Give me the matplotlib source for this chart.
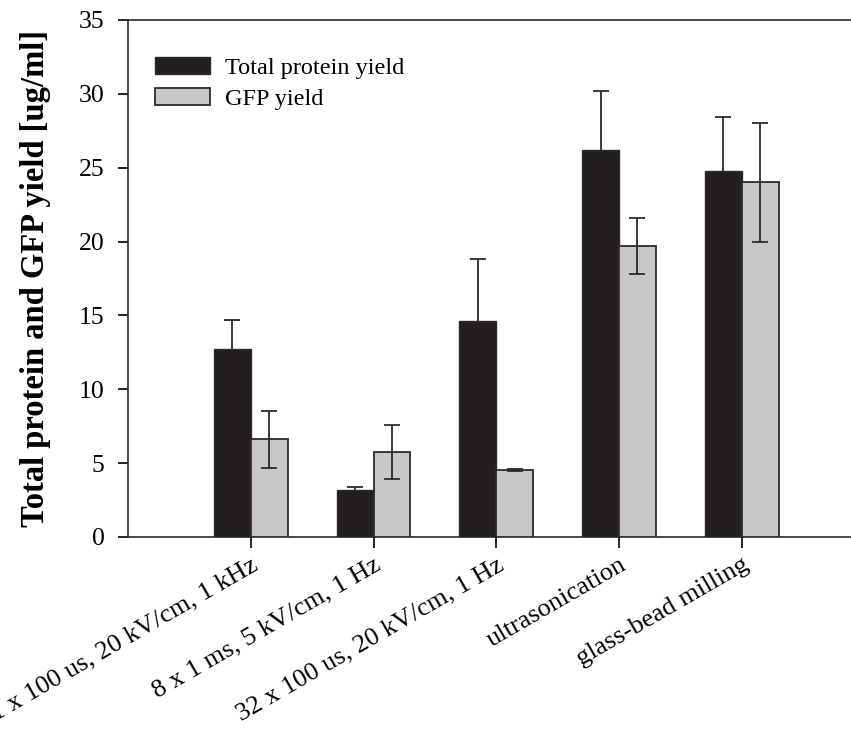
import numpy as np
import matplotlib.transforms as mtransforms
from matplotlib import pyplot as plt

# treatments on the x axis
categories = [
    "1 x 100 us, 20 kV/cm, 1 kHz",
    "8 x 1 ms, 5 kV/cm, 1 Hz",
    "32 x 100 us, 20 kV/cm, 1 Hz",
    "ultrasonication",
    "glass-bead milling",
]

# yields [ug/ml]
total_protein = [12.7, 3.2, 14.6, 26.2, 24.8]
total_protein_err = [2.0, 0.2, 4.2, 4.0, 3.6]
gfp = [6.6, 5.75, 4.55, 19.7, 24.0]
gfp_err = [1.9, 1.8, 0.08, 1.9, 4.0]

plt.rcParams["font.family"] = ["Liberation Serif", "DejaVu Serif"]

fig = plt.figure(figsize=(8.51, 7.35), dpi=100)
# axes runs past the right edge like the cropped original
ax = fig.add_axes([0.1504, 0.2694, 0.8655, 0.7034])

x = np.arange(1, len(categories) + 1)
width = 0.30
dark = "#231f20"
light = "#c8c8c8"
edge = "#2b2b2b"

err_style = dict(fmt="none", ecolor=edge, elinewidth=1.3, capsize=6, capthick=1.3)

# dark bars sit on top of their error bars, so only the upper whisker shows
ax.bar(x - width / 2, total_protein, width, color=dark, edgecolor=edge, linewidth=1.0,
       zorder=3, label="Total protein yield")
ax.errorbar(x - width / 2, total_protein, yerr=total_protein_err, zorder=2, **err_style)

ax.bar(x + width / 2, gfp, width, color=light, edgecolor=edge, linewidth=1.3,
       zorder=3, label="GFP yield")
ax.errorbar(x + width / 2, gfp, yerr=gfp_err, zorder=4, **err_style)

ax.set_xlim(0, 6)
ax.set_ylim(0, 35)
ax.set_yticks(np.arange(0, 36, 5))
ax.set_xticks(x)
ax.set_xticklabels(categories, rotation=30, ha="right", rotation_mode="anchor", fontsize=19)
shift = mtransforms.ScaledTranslation(9 / 100, -4 / 100, fig.dpi_scale_trans)
for lbl in ax.get_xticklabels():
    lbl.set_transform(lbl.get_transform() + shift)
ax.tick_params(axis="y", labelsize=18.5, direction="out", length=7, width=1.2, pad=10)
ax.tick_params(axis="x", direction="out", length=8, width=1.2, pad=4)

for side in ["left", "top", "bottom", "right"]:
    ax.spines[side].set_linewidth(1.2)
    ax.spines[side].set_color("#2b2b2b")

ax.set_ylabel("Total protein and GFP yield [ug/ml]", fontsize=23.5, fontweight="bold", labelpad=20)

ax.legend(loc="upper left", bbox_to_anchor=(0.036, 0.928), frameon=False, fontsize=17.5,
          handlelength=2.3, handleheight=0.7, handletextpad=0.6, labelspacing=0.35,
          borderaxespad=0, borderpad=0)

fig.savefig("out.png", dpi=100)
